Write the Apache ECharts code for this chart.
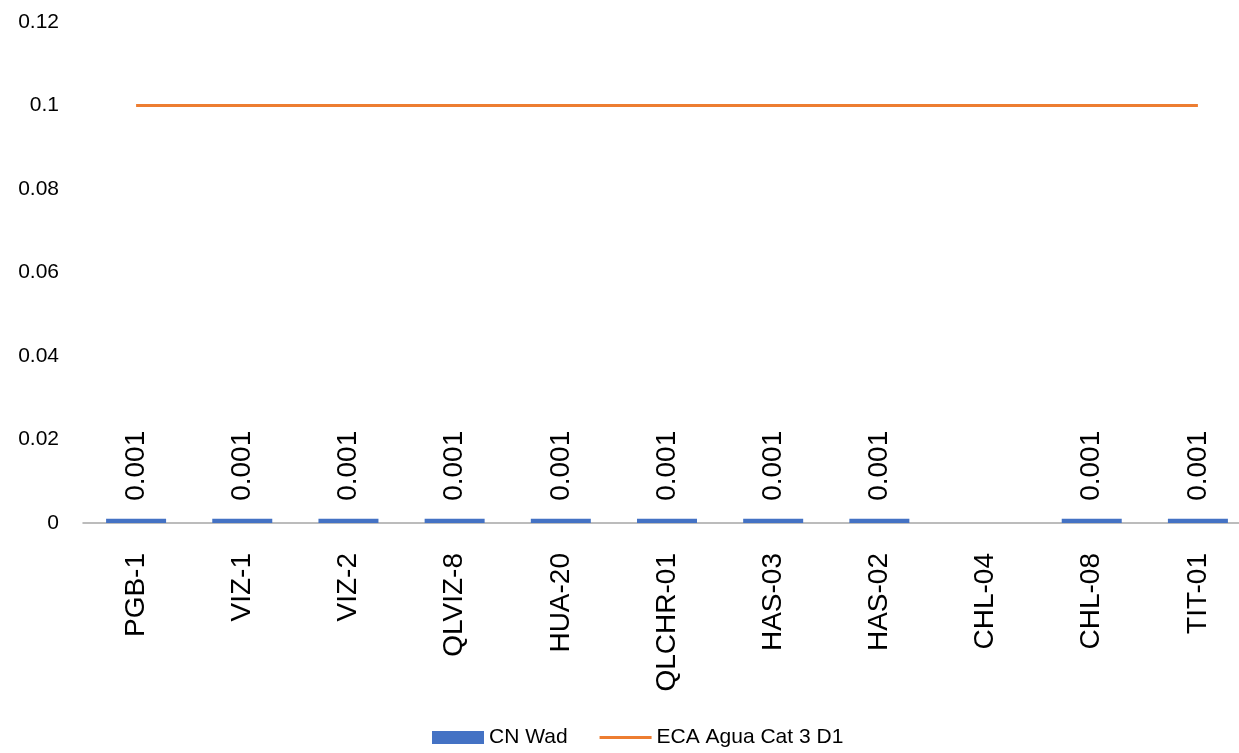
<!DOCTYPE html>
<html>
<head>
<meta charset="utf-8">
<script src="https://cdn.jsdelivr.net/npm/echarts@6/dist/echarts.min.js"></script>
<style>
html,body{margin:0;padding:0;background:#fff;}
#main{width:1239px;height:753px;}
</style>
</head>
<body>
<div id="main"></div>
<script>
var categories = ['PGB-1','VIZ-1','VIZ-2','QLVIZ-8','HUA-20','QLCHR-01','HAS-03','HAS-02','CHL-04','CHL-08','TIT-01'];
var cnWad = [0.001,0.001,0.001,0.001,0.001,0.001,0.001,0.001,null,0.001,0.001];
var ecaLimit = [0.1,0.1,0.1,0.1,0.1,0.1,0.1,0.1,0.1,0.1,0.1];

var font = '"Liberation Sans", Arial, sans-serif';
var chart = echarts.init(document.getElementById('main'));
var option = {
    animation: false,
    textStyle: { fontFamily: font },
    grid: { left: 83, width: 1168, top: 22, bottom: 230, outerBoundsMode: 'none' },
    legend: {
        left: 427,
        top: 722,
        itemGap: 32,
        itemWidth: 52,
        itemHeight: 13,
        textStyle: { fontSize: 21, color: '#000', fontFamily: font },
        data: [
            { name: 'CN Wad', icon: 'rect' },
            { name: 'ECA Agua Cat 3 D1', icon: 'path://M0,0 L0.01,0 M0,5 L55,5 L55,8 L0,8 Z M0,13 L0.01,13' }
        ]
    },
    xAxis: {
        type: 'category',
        data: categories,
        axisLine: { show: true, lineStyle: { color: '#a6a6a6', width: 1.5 } },
        axisTick: { show: false },
        axisLabel: { rotate: 90, fontSize: 28, color: '#000', margin: 30, fontFamily: font }
    },
    yAxis: {
        type: 'value',
        min: 0,
        max: 0.12,
        interval: 0.02,
        axisLine: { show: false },
        axisTick: { show: false },
        splitLine: { show: false },
        axisLabel: { fontSize: 21, color: '#000', margin: 24, fontFamily: font }
    },
    series: [
        {
            name: 'CN Wad',
            type: 'bar',
            data: cnWad,
            barWidth: 60,
            itemStyle: { color: '#4472c4' },
            label: {
                show: true,
                position: 'top',
                rotate: 90,
                align: 'left',
                verticalAlign: 'middle',
                distance: 18,
                fontSize: 28,
                color: '#000',
                fontFamily: font
            }
        },
        {
            name: 'ECA Agua Cat 3 D1',
            type: 'line',
            data: ecaLimit,
            symbol: 'none',
            lineStyle: { color: '#ed7d31', width: 3 },
            itemStyle: { color: '#ed7d31' }
        }
    ]
};
chart.setOption(option);
</script>
</body>
</html>
